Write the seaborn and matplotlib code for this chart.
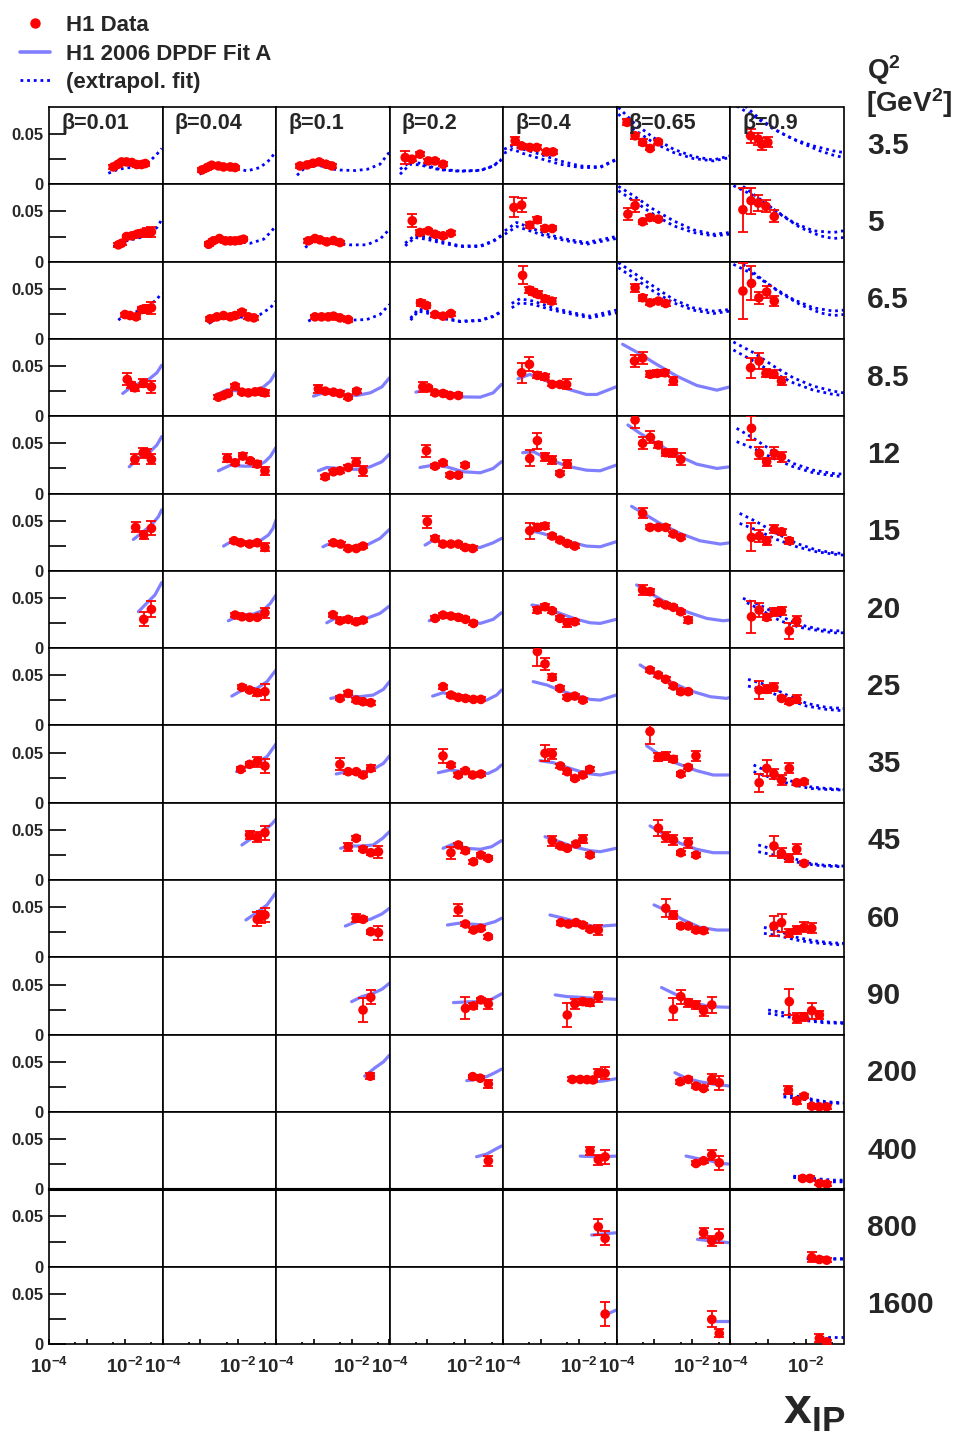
import matplotlib
matplotlib.use("Agg")
import matplotlib.pyplot as plt
import seaborn as sns
import pandas as pd
from matplotlib.lines import Line2D
from matplotlib.ticker import FixedLocator, FixedFormatter, NullFormatter

# ---------------- axis labels / categories ----------------
BETAS = ["0.01", "0.04", "0.1", "0.2", "0.4", "0.65", "0.9"]
Q2 = ["3.5", "5", "6.5", "8.5", "12", "15", "20", "25", "35", "45", "60", "90", "200", "400", "800", "1600"]
YTICKS = [0, 0.05]
YTICKLABELS = ["0", "0.05"]
XTICKS = [1e-4, 1e-3, 1e-2]
XTICKLABELS = [r"$\mathbf{10^{-4}}$", "", r"$\mathbf{10^{-2}}$"]
XMINOR = [5e-4, 5e-3, 5e-2]
YMAX = 0.077

# ---------------- data: (x_IP, value, error) and fit curves (x_IP, value) ----------------
# Q2 = 3.5
pts_0_0 = [(5.0e-3, 0.0173, 0.002), (6.5e-3, 0.0197, 0.002), (8.3e-3, 0.0223, 0.002), (1.12e-2, 0.0223, 0.002), (1.55e-2, 0.0217, 0.002), (2.1e-2, 0.0197, 0.002), (2.8e-2, 0.0197, 0.002), (3.5e-2, 0.0207, 0.002)]
fit_0_0 = [(3.7e-3, 0.011), (6.8e-3, 0.015), (1.38e-2, 0.0167), (2.6e-2, 0.0183), (4.7e-2, 0.0233), (7.1e-2, 0.030), (9.5e-2, 0.0357)]
pts_0_1 = [(1.1e-3, 0.0143, 0.002), (1.5e-3, 0.0167, 0.002), (2.0e-3, 0.019, 0.002), (3.0e-3, 0.0183, 0.002), (4.1e-3, 0.0173, 0.002), (6.2e-3, 0.0173, 0.002), (8.3e-3, 0.0167, 0.002)]
fit_0_1 = [(9.5e-4, 0.010), (2.2e-3, 0.0183), (7.6e-3, 0.0167), (1.7e-2, 0.0133), (3.8e-2, 0.0167), (7.1e-2, 0.025), (0.1, 0.0333)]
pts_0_2 = [(4.3e-4, 0.0183, 0.002), (6.6e-4, 0.0193, 0.002), (9.5e-4, 0.021, 0.002), (1.38e-3, 0.0223, 0.002), (2.1e-3, 0.020, 0.002), (3.0e-3, 0.0183, 0.002)]
fit_0_2 = [(3.6e-4, 0.009), (5.9e-4, 0.0167), (1.29e-3, 0.019), (4.1e-3, 0.0143), (1.23e-2, 0.0137), (2.6e-2, 0.015), (5.6e-2, 0.020), (9.8e-2, 0.0317)]
pts_0_3 = [(2.6e-4, 0.0267, 0.006), (3.9e-4, 0.025, 0.002), (6.4e-4, 0.030, 0.002), (1.07e-3, 0.0233, 0.002), (1.6e-3, 0.0233, 0.002), (2.6e-3, 0.020, 0.002)]
fit_0_3 = [(1.9e-4, 0.015), (3.5e-4, 0.0223), (6.4e-4, 0.021), (2.1e-3, 0.015), (7.2e-3, 0.0133), (2.5e-2, 0.014), (5.5e-2, 0.0183), (9.1e-2, 0.025)]
fit2_0_3 = [(1.9e-4, 0.010), (3.5e-4, 0.020), (6.4e-4, 0.0193), (2.1e-3, 0.0145), (7.2e-3, 0.013), (2.5e-2, 0.0137), (5.5e-2, 0.018), (9.1e-2, 0.0245)]
pts_0_4 = [(2.1e-4, 0.0433, 0.004), (3.1e-4, 0.0383, 0.002), (5.1e-4, 0.0367, 0.002), (7.8e-4, 0.0367, 0.002), (1.41e-3, 0.0323, 0.002), (2.1e-3, 0.0323, 0.002)]
fit_0_4 = [(1.07e-4, 0.035), (1.8e-4, 0.0383), (3.4e-4, 0.035), (9.5e-4, 0.030), (3.2e-3, 0.0233), (1.1e-2, 0.0183), (3.7e-2, 0.0173), (9.8e-2, 0.025)]
fit2_0_4 = [(1.07e-4, 0.031), (1.8e-4, 0.035), (3.4e-4, 0.0307), (9.5e-4, 0.0257), (3.2e-3, 0.020), (1.1e-2, 0.0167), (3.7e-2, 0.0167), (9.8e-2, 0.0243)]
pts_0_5 = [(1.9e-4, 0.0617, 0.003), (3.1e-4, 0.0483, 0.003), (4.9e-4, 0.0417, 0.003), (7.7e-4, 0.0357, 0.002), (1.28e-3, 0.0423, 0.002)]
fit_0_5 = [(1.12e-4, 0.0767), (2.8e-4, 0.0617), (9.3e-4, 0.0467), (3.2e-3, 0.035), (1.07e-2, 0.0277), (3.6e-2, 0.0243), (0.1, 0.0283)]
fit2_0_5 = [(1.12e-4, 0.070), (2.8e-4, 0.055), (9.3e-4, 0.0417), (3.2e-3, 0.0317), (1.07e-2, 0.0257), (3.6e-2, 0.0233), (0.1, 0.0267)]
pts_0_6 = [(3.5e-4, 0.0483, 0.007), (5.6e-4, 0.045, 0.006), (6.9e-4, 0.040, 0.006), (1.0e-3, 0.0417, 0.005)]
fit_0_6 = [(1.5e-4, 0.078), (4.2e-4, 0.068), (1.41e-3, 0.055), (4.7e-3, 0.045), (1.6e-2, 0.0383), (5.4e-2, 0.0333), (0.1, 0.0317)]
fit2_0_6 = [(2.5e-4, 0.078), (6.2e-4, 0.065), (2.1e-3, 0.0517), (7.1e-3, 0.0417), (2.4e-2, 0.0333), (5.4e-2, 0.029), (0.1, 0.0267)]
# Q2 = 5
pts_1_0 = [(6.8e-3, 0.0167, 0.002), (8.3e-3, 0.0183, 0.002), (1.12e-2, 0.025, 0.002), (1.55e-2, 0.0257, 0.002), (2.1e-2, 0.0273, 0.002), (2.8e-2, 0.0283, 0.003), (3.8e-2, 0.029, 0.004), (5.1e-2, 0.0297, 0.005)]
fit_1_0 = [(5.0e-3, 0.015), (1.12e-2, 0.0207), (2.6e-2, 0.024), (4.7e-2, 0.0273), (7.1e-2, 0.034), (9.5e-2, 0.0417)]
pts_1_1 = [(1.66e-3, 0.0173, 0.002), (2.2e-3, 0.0207, 0.002), (3.2e-3, 0.023, 0.002), (4.6e-3, 0.0207, 0.002), (6.2e-3, 0.0207, 0.002), (8.3e-3, 0.0207, 0.002), (1.12e-2, 0.0213, 0.002), (1.38e-2, 0.0223, 0.002)]
fit_1_1 = [(1.41e-3, 0.014), (2.75e-3, 0.0223), (7.6e-3, 0.0207), (2.1e-2, 0.0183), (4.7e-2, 0.0223), (7.8e-2, 0.0307), (0.1, 0.0363)]
pts_1_2 = [(7.1e-4, 0.0207, 0.002), (1.07e-3, 0.023, 0.002), (1.45e-3, 0.0217, 0.002), (2.2e-3, 0.0197, 0.002), (3.3e-3, 0.021, 0.002), (4.9e-3, 0.019, 0.002)]
fit_1_2 = [(5.9e-4, 0.014), (9.8e-4, 0.0207), (3.3e-3, 0.019), (9.1e-3, 0.0167), (2.5e-2, 0.0167), (5.6e-2, 0.0223), (0.1, 0.0323)]
pts_1_3 = [(4.0e-4, 0.0407, 0.0067), (6.4e-4, 0.029, 0.002), (1.07e-3, 0.0307, 0.002), (1.6e-3, 0.0273, 0.002), (2.6e-3, 0.0257, 0.002), (4.2e-3, 0.0283, 0.002)]
fit_1_3 = [(2.6e-4, 0.0183), (4.7e-4, 0.0263), (9.5e-4, 0.0247), (2.1e-3, 0.0207), (7.2e-3, 0.0157), (2.5e-2, 0.0157), (5.5e-2, 0.0207), (9.1e-2, 0.0263)]
fit2_1_3 = [(2.6e-4, 0.0157), (4.7e-4, 0.024), (9.5e-4, 0.0223), (2.1e-3, 0.019), (7.2e-3, 0.015), (2.5e-2, 0.015), (5.5e-2, 0.020), (9.1e-2, 0.0257)]
pts_1_4 = [(1.95e-4, 0.054, 0.010), (3.1e-4, 0.0563, 0.007), (5.1e-4, 0.0363, 0.003), (8.1e-4, 0.0417, 0.003), (1.29e-3, 0.033, 0.002), (2.0e-3, 0.033, 0.002)]
fit_1_4 = [(1.12e-4, 0.0307), (2.3e-4, 0.039), (5.1e-4, 0.034), (1.45e-3, 0.0273), (4.9e-3, 0.0223), (1.6e-2, 0.019), (9.8e-2, 0.025)]
fit2_1_4 = [(1.12e-4, 0.0273), (2.3e-4, 0.035), (5.1e-4, 0.0307), (1.45e-3, 0.025), (4.9e-3, 0.0207), (1.6e-2, 0.0173), (9.8e-2, 0.023)]
pts_1_5 = [(2.0e-4, 0.0473, 0.006), (3.1e-4, 0.0557, 0.006), (4.9e-4, 0.0397, 0.002), (7.7e-4, 0.044, 0.002), (1.28e-3, 0.0423, 0.002)]
fit_1_5 = [(1.12e-4, 0.075), (2.8e-4, 0.0657), (9.3e-4, 0.0523), (3.2e-3, 0.0407), (1.07e-2, 0.0317), (3.6e-2, 0.0273), (0.1, 0.029)]
fit2_1_5 = [(1.12e-4, 0.0707), (2.8e-4, 0.0607), (9.3e-4, 0.0473), (3.2e-3, 0.0357), (1.07e-2, 0.029), (3.6e-2, 0.0257), (0.1, 0.0273)]
pts_1_6 = [(2.2e-4, 0.0517, 0.022), (3.6e-4, 0.0607, 0.013), (5.6e-4, 0.0583, 0.008), (8.9e-4, 0.055, 0.006), (1.48e-3, 0.045, 0.006)]
fit_1_6 = [(1.23e-4, 0.0757), (4.2e-4, 0.0657), (1.41e-3, 0.0523), (4.7e-3, 0.039), (1.6e-2, 0.0307), (5.4e-2, 0.029), (0.1, 0.0307)]
fit2_1_6 = [(2.2e-4, 0.075), (6.2e-4, 0.0623), (2.1e-3, 0.0473), (7.1e-3, 0.034), (2.4e-2, 0.0257), (5.4e-2, 0.023), (0.1, 0.024)]
# Q2 = 6.5
pts_2_0 = [(1.02e-2, 0.0243, 0.002), (1.38e-2, 0.0233, 0.002), (2.0e-2, 0.022, 0.002), (2.8e-2, 0.0293, 0.003), (3.8e-2, 0.030, 0.004), (5.1e-2, 0.031, 0.006)]
fit_2_0 = [(6.8e-3, 0.0187), (1.12e-2, 0.026), (2.6e-2, 0.0277), (4.7e-2, 0.0343), (7.1e-2, 0.0393), (9.5e-2, 0.046)]
pts_2_1 = [(1.8e-3, 0.020, 0.002), (2.75e-3, 0.022, 0.002), (4.1e-3, 0.0233, 0.002), (6.2e-3, 0.022, 0.002), (8.3e-3, 0.0233, 0.002), (1.26e-2, 0.0267, 0.002), (1.86e-2, 0.022, 0.002), (2.6e-2, 0.021, 0.002)]
fit_2_1 = [(1.66e-3, 0.0153), (3.3e-3, 0.022), (7.6e-3, 0.0227), (1.7e-2, 0.021), (3.8e-2, 0.0243), (7.1e-2, 0.031), (0.1, 0.0377)]
pts_2_2 = [(1.07e-3, 0.022, 0.002), (1.6e-3, 0.022, 0.002), (2.4e-3, 0.022, 0.002), (3.3e-3, 0.0227, 0.002), (4.9e-3, 0.021, 0.002), (8.1e-3, 0.0193, 0.002)]
fit_2_2 = [(7.1e-4, 0.0177), (1.2e-3, 0.022), (3.3e-3, 0.021), (9.1e-3, 0.0187), (2.5e-2, 0.0193), (5.6e-2, 0.0243), (0.1, 0.0343)]
pts_2_3 = [(6.6e-4, 0.036, 0.003), (9.5e-4, 0.0333, 0.002), (1.6e-3, 0.0243, 0.002), (2.6e-3, 0.0227, 0.002), (4.2e-3, 0.0253, 0.002)]
fit_2_3 = [(3.6e-4, 0.0207), (5.8e-4, 0.0297), (9.5e-4, 0.028), (2.1e-3, 0.0223), (7.2e-3, 0.0177), (2.5e-2, 0.0187), (5.5e-2, 0.0227), (9.1e-2, 0.0277)]
fit2_2_3 = [(3.6e-4, 0.0187), (5.8e-4, 0.0277), (9.5e-4, 0.026), (2.1e-3, 0.021), (7.2e-3, 0.0172), (2.5e-2, 0.0182), (5.5e-2, 0.0222), (9.1e-2, 0.0272)]
pts_2_4 = [(3.3e-4, 0.0633, 0.009), (5.0e-4, 0.0487, 0.003), (6.3e-4, 0.0467, 0.003), (8.5e-4, 0.0443, 0.003), (1.29e-3, 0.040, 0.003), (1.95e-3, 0.0377, 0.003)]
fit_2_4 = [(1.7e-4, 0.0353), (2.8e-4, 0.040), (6.3e-4, 0.0377), (2.1e-3, 0.031), (7.2e-3, 0.026), (2.0e-2, 0.0227), (9.8e-2, 0.0287)]
fit2_2_4 = [(1.7e-4, 0.031), (2.8e-4, 0.036), (6.3e-4, 0.0343), (2.1e-3, 0.0287), (7.2e-3, 0.0243), (2.0e-2, 0.021), (9.8e-2, 0.026)]
pts_2_5 = [(3.1e-4, 0.051, 0.004), (4.9e-4, 0.041, 0.003), (7.7e-4, 0.036, 0.002), (1.28e-3, 0.0377, 0.002), (2.0e-3, 0.0353, 0.002)]
fit_2_5 = [(1.12e-4, 0.076), (2.8e-4, 0.066), (9.3e-4, 0.0527), (3.2e-3, 0.0393), (1.07e-2, 0.031), (3.6e-2, 0.0277), (0.1, 0.0293)]
fit2_2_5 = [(1.12e-4, 0.071), (2.8e-4, 0.061), (9.3e-4, 0.0477), (3.2e-3, 0.036), (1.07e-2, 0.0287), (3.6e-2, 0.0253), (0.1, 0.0277)]
pts_2_6 = [(2.2e-4, 0.0477, 0.028), (3.7e-4, 0.0553, 0.017), (5.8e-4, 0.041, 0.006), (9.3e-4, 0.0467, 0.006), (1.48e-3, 0.0377, 0.005)]
fit_2_6 = [(1.23e-4, 0.0743), (4.2e-4, 0.0643), (1.41e-3, 0.051), (4.7e-3, 0.0393), (1.6e-2, 0.031), (5.4e-2, 0.0277), (0.1, 0.0287)]
fit2_2_6 = [(2.2e-4, 0.0743), (6.2e-4, 0.061), (2.1e-3, 0.046), (7.1e-3, 0.0343), (2.4e-2, 0.026), (5.4e-2, 0.0233), (0.1, 0.0243)]
# Q2 = 8.5
pts_3_0 = [(1.17e-2, 0.0367, 0.006), (1.5e-2, 0.031, 0.003), (1.86e-2, 0.0283, 0.003), (3.1e-2, 0.0327, 0.004), (5.1e-2, 0.0293, 0.006)]
fit_3_0 = [(8.9e-3, 0.0227), (1.7e-2, 0.0307), (3.8e-2, 0.035), (7.1e-2, 0.0433), (9.5e-2, 0.0507)]
pts_3_1 = [(3.0e-3, 0.019, 0.002), (4.1e-3, 0.0207, 0.002), (5.5e-3, 0.0227, 0.002), (8.3e-3, 0.030, 0.002), (1.26e-2, 0.024, 0.002), (1.86e-2, 0.0233, 0.002), (2.8e-2, 0.0243, 0.002), (3.8e-2, 0.0247, 0.002), (5.1e-2, 0.0233, 0.003)]
fit_3_1 = [(2.5e-3, 0.0207), (5.0e-3, 0.0263), (1.12e-2, 0.025), (2.6e-2, 0.024), (4.7e-2, 0.0293), (7.1e-2, 0.035), (0.1, 0.044)]
pts_3_2 = [(1.32e-3, 0.0273, 0.004), (2.0e-3, 0.025, 0.002), (3.3e-3, 0.024, 0.002), (4.9e-3, 0.0227, 0.002), (8.1e-3, 0.019, 0.002), (1.35e-2, 0.025, 0.002)]
fit_3_2 = [(9.8e-4, 0.020), (1.78e-3, 0.0233), (4.9e-3, 0.0217), (1.35e-2, 0.0207), (3.1e-2, 0.0233), (6.3e-2, 0.0293), (0.1, 0.0383)]
pts_3_3 = [(7.6e-4, 0.0293, 0.005), (1.07e-3, 0.0283, 0.002), (1.6e-3, 0.0233, 0.002), (2.6e-3, 0.0227, 0.002), (4.0e-3, 0.0207, 0.002), (6.6e-3, 0.0207, 0.002)]
fit_3_3 = [(5.0e-4, 0.024), (9.5e-4, 0.0267), (2.1e-3, 0.0233), (7.2e-3, 0.0193), (2.5e-2, 0.019), (5.5e-2, 0.0233), (9.1e-2, 0.0317)]
pts_3_4 = [(3.1e-4, 0.0433, 0.010), (5.0e-4, 0.0517, 0.007), (8.1e-4, 0.0407, 0.003), (1.29e-3, 0.0393, 0.003), (2.0e-3, 0.0317, 0.002), (3.2e-3, 0.0317, 0.002), (4.8e-3, 0.0317, 0.005)]
fit_3_4 = [(2.5e-4, 0.0373), (5.1e-4, 0.0417), (1.45e-3, 0.035), (4.9e-3, 0.0273), (1.6e-2, 0.0217), (3.0e-2, 0.0217), (9.8e-2, 0.0293)]
pts_3_5 = [(3.0e-4, 0.055, 0.006), (4.9e-4, 0.058, 0.006), (7.7e-4, 0.0417, 0.003), (1.2e-3, 0.0427, 0.003), (1.9e-3, 0.0433, 0.003), (3.2e-3, 0.035, 0.004)]
fit_3_5 = [(1.45e-4, 0.0717), (3.4e-4, 0.064), (1.15e-3, 0.0517), (3.9e-3, 0.040), (1.32e-2, 0.0307), (4.5e-2, 0.026), (0.1, 0.0293)]
pts_3_6 = [(3.5e-4, 0.0483, 0.010), (5.9e-4, 0.055, 0.008), (8.9e-4, 0.0427, 0.004), (1.45e-3, 0.0417, 0.004), (2.3e-3, 0.035, 0.004)]
fit_3_6 = [(1.23e-4, 0.074), (4.2e-4, 0.0633), (1.41e-3, 0.050), (4.7e-3, 0.0383), (1.6e-2, 0.030), (5.4e-2, 0.025), (0.1, 0.0233)]
fit2_3_6 = [(1.23e-4, 0.066), (4.2e-4, 0.055), (1.41e-3, 0.0433), (4.7e-3, 0.0333), (1.6e-2, 0.026), (5.4e-2, 0.0217), (0.1, 0.0207)]
# Q2 = 12
pts_4_0 = [(1.86e-2, 0.034, 0.005), (3.1e-2, 0.0407, 0.005), (3.8e-2, 0.040, 0.004), (5.1e-2, 0.034, 0.005)]
fit_4_0 = [(1.32e-2, 0.0267), (2.6e-2, 0.0367), (4.7e-2, 0.0417), (7.1e-2, 0.0483), (9.5e-2, 0.0567)]
pts_4_1 = [(5.2e-3, 0.035, 0.004), (8.3e-3, 0.0307, 0.002), (1.32e-2, 0.0373, 0.003), (2.1e-2, 0.0327, 0.002), (3.2e-2, 0.0293, 0.003), (5.1e-2, 0.0227, 0.004)]
fit_4_1 = [(3.0e-3, 0.0227), (6.2e-3, 0.0283), (1.38e-2, 0.0273), (3.1e-2, 0.0273), (5.1e-2, 0.0317), (7.2e-2, 0.0373), (0.1, 0.046)]
pts_4_2 = [(2.0e-3, 0.0167, 0.002), (3.3e-3, 0.0217, 0.002), (4.9e-3, 0.0227, 0.002), (8.1e-3, 0.026, 0.002), (1.32e-2, 0.031, 0.004), (2.0e-2, 0.0227, 0.005)]
fit_4_2 = [(1.32e-3, 0.0227), (2.2e-3, 0.026), (4.9e-3, 0.025), (1.35e-2, 0.024), (3.1e-2, 0.0267), (6.3e-2, 0.0317), (0.1, 0.0393)]
pts_4_3 = [(9.5e-4, 0.0427, 0.006), (1.6e-3, 0.0273, 0.002), (2.6e-3, 0.0307, 0.002), (4.0e-3, 0.0183, 0.002), (6.6e-3, 0.0183, 0.002), (1.0e-2, 0.0283, 0.002)]
fit_4_3 = [(6.4e-4, 0.026), (1.45e-3, 0.0283), (3.2e-3, 0.0267), (8.9e-3, 0.0217), (2.5e-2, 0.0207), (5.5e-2, 0.025), (9.1e-2, 0.0317)]
pts_4_4 = [(5.1e-4, 0.035, 0.008), (8.1e-4, 0.0527, 0.008), (1.29e-3, 0.0367, 0.004), (2.0e-3, 0.0333, 0.004), (3.2e-3, 0.020, 0.002), (5.0e-3, 0.0293, 0.004)]
fit_4_4 = [(3.3e-4, 0.0407), (6.3e-4, 0.0417), (1.45e-3, 0.035), (4.9e-3, 0.0273), (1.6e-2, 0.0233), (3.7e-2, 0.0227), (9.8e-2, 0.0283)]
pts_4_5 = [(3.1e-4, 0.0733, 0.008), (4.9e-4, 0.050, 0.006), (7.9e-4, 0.056, 0.006), (1.28e-3, 0.0483, 0.003), (2.0e-3, 0.0407, 0.003), (3.2e-3, 0.0407, 0.004), (5.0e-3, 0.034, 0.006)]
fit_4_5 = [(2.0e-4, 0.0683), (4.2e-4, 0.060), (1.15e-3, 0.050), (3.9e-3, 0.0383), (1.32e-2, 0.0293), (4.5e-2, 0.025), (0.1, 0.0267)]
pts_4_6 = [(3.7e-4, 0.065, 0.012), (6.0e-4, 0.040, 0.006), (9.3e-4, 0.0317, 0.004), (1.48e-3, 0.040, 0.006), (2.3e-3, 0.0367, 0.005)]
fit_4_6 = [(1.5e-4, 0.065), (4.2e-4, 0.055), (1.41e-3, 0.0417), (4.7e-3, 0.030), (1.6e-2, 0.0233), (5.4e-2, 0.020), (0.1, 0.0193)]
fit2_4_6 = [(1.5e-4, 0.0517), (4.2e-4, 0.045), (1.41e-3, 0.035), (4.7e-3, 0.0267), (1.6e-2, 0.0207), (5.4e-2, 0.0177), (0.1, 0.0167)]
# Q2 = 15
pts_5_0 = [(1.95e-2, 0.0433, 0.005), (3.2e-2, 0.0357, 0.004), (5.1e-2, 0.0423, 0.007)]
fit_5_0 = [(1.7e-2, 0.0313), (3.1e-2, 0.039), (5.1e-2, 0.0457), (7.8e-2, 0.054), (9.5e-2, 0.0607)]
pts_5_1 = [(7.8e-3, 0.030, 0.002), (1.17e-2, 0.028, 0.002), (2.0e-2, 0.0267, 0.002), (3.2e-2, 0.028, 0.002), (5.1e-2, 0.0233, 0.004)]
fit_5_1 = [(4.1e-3, 0.0247), (7.6e-3, 0.0307), (1.7e-2, 0.029), (3.8e-2, 0.030), (6.3e-2, 0.0357), (8.3e-2, 0.0423), (0.1, 0.0507)]
pts_5_2 = [(3.3e-3, 0.028, 0.002), (5.1e-3, 0.0267, 0.002), (8.1e-3, 0.0223, 0.002), (1.32e-2, 0.0223, 0.002), (2.0e-2, 0.0247, 0.002)]
fit_5_2 = [(1.74e-3, 0.024), (3.3e-3, 0.029), (9.1e-3, 0.024), (2.5e-2, 0.0257), (5.6e-2, 0.0323), (0.1, 0.0413)]
pts_5_3 = [(1.0e-3, 0.049, 0.006), (1.6e-3, 0.0323, 0.002), (2.6e-3, 0.0267, 0.002), (4.2e-3, 0.0267, 0.002), (6.6e-3, 0.0267, 0.002), (1.0e-2, 0.0233, 0.002), (1.58e-2, 0.0223, 0.002)]
fit_5_3 = [(8.7e-4, 0.0257), (1.45e-3, 0.0307), (3.2e-3, 0.0273), (8.9e-3, 0.024), (2.5e-2, 0.0233), (5.5e-2, 0.028), (9.1e-2, 0.0323)]
pts_5_4 = [(5.1e-4, 0.040, 0.008), (8.1e-4, 0.0433, 0.003), (1.29e-3, 0.0447, 0.003), (2.0e-3, 0.0347, 0.002), (3.2e-3, 0.0307, 0.002), (5.0e-3, 0.0273, 0.002), (7.9e-3, 0.0247, 0.002)]
fit_5_4 = [(4.3e-4, 0.0407), (9.5e-4, 0.038), (2.1e-3, 0.034), (7.2e-3, 0.028), (1.6e-2, 0.0247), (3.7e-2, 0.024), (9.8e-2, 0.029)]
pts_5_5 = [(4.9e-4, 0.0573, 0.005), (7.7e-4, 0.0433, 0.002), (1.28e-3, 0.0433, 0.002), (2.0e-3, 0.0433, 0.002), (3.2e-3, 0.0367, 0.002), (5.0e-3, 0.0333, 0.002)]
fit_5_5 = [(2.5e-4, 0.0643), (5.1e-4, 0.0573), (1.41e-3, 0.0473), (4.8e-3, 0.0373), (1.6e-2, 0.030), (5.5e-2, 0.0267), (0.1, 0.028)]
pts_5_6 = [(3.7e-4, 0.0333, 0.014), (6.0e-4, 0.0347, 0.006), (9.3e-4, 0.030, 0.004), (1.48e-3, 0.0413, 0.004), (2.3e-3, 0.039, 0.003), (3.7e-3, 0.030, 0.003)]
fit_5_6 = [(1.8e-4, 0.0573), (5.0e-4, 0.049), (1.7e-3, 0.0373), (5.8e-3, 0.0273), (1.95e-2, 0.0207), (5.4e-2, 0.018), (0.1, 0.0173)]
fit2_5_6 = [(1.8e-4, 0.0473), (5.0e-4, 0.0407), (1.7e-3, 0.0313), (5.8e-3, 0.024), (1.95e-2, 0.019), (5.4e-2, 0.0167), (0.1, 0.0157)]
# Q2 = 20
pts_6_0 = [(3.2e-2, 0.0287, 0.007), (5.1e-2, 0.0387, 0.008)]
fit_6_0 = [(2.3e-2, 0.0363), (3.8e-2, 0.0447), (6.3e-2, 0.053), (9.5e-2, 0.0653)]
pts_6_1 = [(8.3e-3, 0.033, 0.002), (1.26e-2, 0.0313, 0.002), (2.0e-2, 0.0307, 0.002), (3.2e-2, 0.0307, 0.002), (5.1e-2, 0.0353, 0.005)]
fit_6_1 = [(5.5e-3, 0.0273), (1.12e-2, 0.033), (2.6e-2, 0.034), (4.7e-2, 0.038), (7.1e-2, 0.0447), (0.1, 0.053)]
pts_6_2 = [(3.2e-3, 0.0333, 0.002), (4.9e-3, 0.0273, 0.002), (8.1e-3, 0.0287, 0.002), (1.32e-2, 0.0263, 0.002), (2.0e-2, 0.028, 0.002)]
fit_6_2 = [(2.2e-3, 0.0253), (4.1e-3, 0.0307), (9.1e-3, 0.0287), (2.5e-2, 0.0297), (5.6e-2, 0.0347), (0.1, 0.042)]
pts_6_3 = [(1.6e-3, 0.0297, 0.002), (2.6e-3, 0.033, 0.002), (4.2e-3, 0.032, 0.002), (6.6e-3, 0.0307, 0.002), (1.02e-2, 0.0287, 0.002), (1.66e-2, 0.0247, 0.002)]
fit_6_3 = [(1.12e-3, 0.0273), (2.1e-3, 0.0313), (4.9e-3, 0.0307), (1.1e-2, 0.0273), (2.5e-2, 0.0247), (5.5e-2, 0.0287), (9.1e-2, 0.0353)]
pts_6_4 = [(8.1e-4, 0.038, 0.003), (1.29e-3, 0.0413, 0.003), (2.0e-3, 0.0373, 0.002), (3.2e-3, 0.0297, 0.002), (5.0e-3, 0.0253, 0.004), (7.9e-3, 0.0263, 0.002)]
fit_6_4 = [(5.8e-4, 0.043), (1.17e-3, 0.0413), (3.2e-3, 0.0347), (8.9e-3, 0.0287), (2.0e-2, 0.0253), (3.7e-2, 0.0247), (9.8e-2, 0.0287)]
pts_6_5 = [(4.9e-4, 0.058, 0.005), (7.7e-4, 0.0563, 0.003), (1.28e-3, 0.0453, 0.002), (2.0e-3, 0.043, 0.002), (3.2e-3, 0.0407, 0.002), (5.0e-3, 0.0363, 0.002), (7.9e-3, 0.028, 0.003)]
fit_6_5 = [(3.4e-4, 0.063), (7.8e-4, 0.0547), (2.1e-3, 0.0453), (7.1e-3, 0.0363), (2.4e-2, 0.0297), (6.6e-2, 0.0273), (0.1, 0.028)]
pts_6_6 = [(3.7e-4, 0.0313, 0.016), (5.9e-4, 0.038, 0.007), (9.3e-4, 0.0307, 0.003), (1.48e-3, 0.0363, 0.004), (2.3e-3, 0.0373, 0.004), (3.7e-3, 0.0173, 0.008), (5.8e-3, 0.0273, 0.005)]
fit_6_6 = [(2.2e-4, 0.0497), (6.2e-4, 0.043), (2.1e-3, 0.032), (7.1e-3, 0.0233), (2.4e-2, 0.0187), (5.4e-2, 0.0173), (0.1, 0.0173)]
fit2_6_6 = [(2.8e-4, 0.0453), (6.2e-4, 0.0387), (2.1e-3, 0.0273), (7.1e-3, 0.0207), (2.4e-2, 0.0173), (5.4e-2, 0.0153), (0.1, 0.0153)]
# Q2 = 25
pts_7_1 = [(1.26e-2, 0.038, 0.002), (2.0e-2, 0.0353, 0.002), (3.2e-2, 0.0327, 0.003), (5.1e-2, 0.0337, 0.008)]
fit_7_1 = [(6.8e-3, 0.0293), (1.38e-2, 0.036), (3.1e-2, 0.037), (5.8e-2, 0.0437), (0.1, 0.0553)]
pts_7_2 = [(4.9e-3, 0.027, 0.002), (8.1e-3, 0.032, 0.002), (1.32e-2, 0.0253, 0.002), (2.0e-2, 0.0237, 0.002), (3.2e-2, 0.0227, 0.002)]
fit_7_2 = [(2.8e-3, 0.027), (6.0e-3, 0.0293), (1.66e-2, 0.0287), (3.7e-2, 0.0303), (6.9e-2, 0.036), (0.1, 0.0437)]
pts_7_3 = [(2.6e-3, 0.0387, 0.002), (4.2e-3, 0.0303, 0.002), (6.6e-3, 0.028, 0.002), (1.02e-2, 0.027, 0.002), (1.66e-2, 0.026, 0.002), (2.6e-2, 0.026, 0.002)]
fit_7_3 = [(1.38e-3, 0.0293), (2.6e-3, 0.0327), (6.0e-3, 0.0287), (1.66e-2, 0.0253), (3.7e-2, 0.0253), (6.8e-2, 0.0303), (9.1e-2, 0.0353)]
pts_7_4 = [(8.1e-4, 0.0737, 0.014), (1.29e-3, 0.0613, 0.006), (2.0e-3, 0.048, 0.003), (3.2e-3, 0.037, 0.002), (5.0e-3, 0.028, 0.002), (7.9e-3, 0.0293, 0.002), (1.29e-2, 0.0253, 0.002)]
fit_7_4 = [(6.3e-4, 0.0437), (1.45e-3, 0.0403), (4.0e-3, 0.0337), (1.1e-2, 0.0287), (2.0e-2, 0.026), (3.7e-2, 0.0253), (9.8e-2, 0.0303)]
pts_7_5 = [(7.7e-4, 0.0553, 0.002), (1.28e-3, 0.0503, 0.002), (2.0e-3, 0.046, 0.002), (3.2e-3, 0.0393, 0.002), (5.0e-3, 0.0337, 0.002), (7.9e-3, 0.0337, 0.002)]
fit_7_5 = [(4.2e-4, 0.0603), (9.3e-4, 0.052), (2.6e-3, 0.0437), (8.7e-3, 0.0347), (3.0e-2, 0.0287), (8.1e-2, 0.027), (0.1, 0.028)]
pts_7_6 = [(5.9e-4, 0.0353, 0.009), (9.3e-4, 0.036, 0.004), (1.45e-3, 0.038, 0.004), (2.3e-3, 0.027, 0.002), (3.7e-3, 0.0237, 0.002), (5.8e-3, 0.026, 0.004)]
fit_7_6 = [(3.0e-4, 0.046), (9.3e-4, 0.0403), (3.2e-3, 0.0303), (1.07e-2, 0.022), (3.6e-2, 0.018), (0.1, 0.017)]
fit2_7_6 = [(3.0e-4, 0.0393), (9.3e-4, 0.0347), (3.2e-3, 0.026), (1.07e-2, 0.0193), (3.6e-2, 0.016), (0.1, 0.0147)]
# Q2 = 35
pts_8_1 = [(1.17e-2, 0.0333, 0.002), (2.0e-2, 0.0383, 0.002), (3.2e-2, 0.041, 0.005), (5.1e-2, 0.0367, 0.007)]
fit_8_1 = [(9.1e-3, 0.031), (1.7e-2, 0.036), (3.1e-2, 0.040), (5.8e-2, 0.046), (0.1, 0.0587)]
pts_8_2 = [(4.9e-3, 0.0383, 0.006), (8.1e-3, 0.031, 0.002), (1.32e-2, 0.031, 0.002), (2.0e-2, 0.0277, 0.002), (3.2e-2, 0.0343, 0.003)]
fit_8_2 = [(3.9e-3, 0.0287), (7.4e-3, 0.031), (1.66e-2, 0.030), (3.7e-2, 0.0333), (6.9e-2, 0.0393), (0.1, 0.0467)]
pts_8_3 = [(2.6e-3, 0.0467, 0.007), (4.2e-3, 0.0377, 0.002), (6.6e-3, 0.0277, 0.002), (1.02e-2, 0.032, 0.002), (1.58e-2, 0.0277, 0.002), (2.6e-2, 0.0287, 0.002)]
fit_8_3 = [(1.95e-3, 0.030), (4.0e-3, 0.0327), (8.9e-3, 0.031), (2.0e-2, 0.0287), (4.1e-2, 0.0293), (6.8e-2, 0.0333), (9.1e-2, 0.0377)]
pts_8_4 = [(1.29e-3, 0.0493, 0.008), (2.0e-3, 0.0487, 0.005), (3.3e-3, 0.0367, 0.002), (5.0e-3, 0.031, 0.002), (7.9e-3, 0.0243, 0.002), (1.29e-2, 0.0277, 0.002), (1.95e-2, 0.0333, 0.002)]
fit_8_4 = [(9.5e-4, 0.042), (2.1e-3, 0.040), (5.9e-3, 0.0343), (1.6e-2, 0.0293), (3.7e-2, 0.0277), (9.8e-2, 0.031)]
pts_8_5 = [(7.7e-4, 0.071, 0.012), (1.28e-3, 0.0453, 0.004), (2.0e-3, 0.0467, 0.004), (3.2e-3, 0.0433, 0.003), (5.0e-3, 0.0287, 0.002), (7.9e-3, 0.0353, 0.002), (1.26e-2, 0.0467, 0.005)]
fit_8_5 = [(6.3e-4, 0.0567), (1.41e-3, 0.0477), (3.9e-3, 0.0393), (1.32e-2, 0.032), (3.6e-2, 0.0277), (0.1, 0.0277)]
pts_8_6 = [(5.9e-4, 0.020, 0.009), (9.3e-4, 0.0343, 0.008), (1.45e-3, 0.0287, 0.005), (2.3e-3, 0.0227, 0.005), (3.7e-3, 0.0343, 0.005), (5.8e-3, 0.020, 0.002), (9.1e-3, 0.021, 0.002)]
fit_8_6 = [(4.2e-4, 0.0377), (1.15e-3, 0.030), (3.9e-3, 0.022), (1.29e-2, 0.016), (3.6e-2, 0.0143), (0.1, 0.0133)]
fit2_8_6 = [(4.2e-4, 0.031), (1.15e-3, 0.0253), (3.9e-3, 0.0187), (1.29e-2, 0.0143), (3.6e-2, 0.0133), (0.1, 0.0127)]
# Q2 = 45
pts_9_1 = [(2.0e-2, 0.045, 0.004), (3.2e-2, 0.0427, 0.005), (5.1e-2, 0.0473, 0.007)]
fit_9_1 = [(1.26e-2, 0.035), (2.6e-2, 0.0433), (5.1e-2, 0.050), (7.8e-2, 0.056), (0.1, 0.0607)]
pts_9_2 = [(8.1e-3, 0.0333, 0.004), (1.32e-2, 0.0417, 0.002), (2.0e-2, 0.0307, 0.002), (3.2e-2, 0.0273, 0.002), (5.1e-2, 0.0283, 0.006)]
fit_9_2 = [(5.1e-3, 0.0317), (9.1e-3, 0.034), (2.0e-2, 0.034), (3.7e-2, 0.035), (6.6e-2, 0.0417), (0.1, 0.0483)]
pts_9_3 = [(4.2e-3, 0.0273, 0.006), (6.6e-3, 0.035, 0.002), (1.02e-2, 0.0293, 0.002), (1.66e-2, 0.0183, 0.002), (2.6e-2, 0.025, 0.002), (4.1e-2, 0.0217, 0.002)]
fit_9_3 = [(2.6e-3, 0.0317), (4.9e-3, 0.036), (1.1e-2, 0.0317), (2.5e-2, 0.0307), (5.0e-2, 0.0333), (9.1e-2, 0.0393)]
pts_9_4 = [(2.0e-3, 0.0393, 0.005), (3.3e-3, 0.034, 0.002), (5.0e-3, 0.0317, 0.002), (8.5e-3, 0.036, 0.002), (1.29e-2, 0.0407, 0.004), (2.0e-2, 0.025, 0.002)]
fit_9_4 = [(1.29e-3, 0.0433), (2.6e-3, 0.0393), (7.2e-3, 0.0333), (2.0e-2, 0.0293), (3.7e-2, 0.0283), (9.8e-2, 0.0317)]
pts_9_5 = [(1.28e-3, 0.0517, 0.008), (2.0e-3, 0.0433, 0.005), (3.2e-3, 0.040, 0.005), (5.0e-3, 0.0273, 0.002), (7.9e-3, 0.0373, 0.005), (1.26e-2, 0.025, 0.002)]
fit_9_5 = [(7.7e-4, 0.054), (1.74e-3, 0.046), (4.8e-3, 0.0367), (1.32e-2, 0.0307), (3.6e-2, 0.0273), (0.1, 0.0273)]
pts_9_6 = [(1.45e-3, 0.034, 0.010), (2.3e-3, 0.0267, 0.005), (3.7e-3, 0.0217, 0.004), (5.8e-3, 0.0307, 0.005), (9.1e-3, 0.0167, 0.002)]
fit_9_6 = [(5.6e-4, 0.035), (1.41e-3, 0.0307), (3.9e-3, 0.0227), (1.07e-2, 0.0173), (2.95e-2, 0.015), (0.1, 0.014)]
fit2_9_6 = [(5.6e-4, 0.0283), (1.41e-3, 0.025), (3.9e-3, 0.0193), (1.07e-2, 0.016), (2.95e-2, 0.014), (0.1, 0.0133)]
# Q2 = 60
pts_10_1 = [(3.2e-2, 0.038, 0.007), (4.1e-2, 0.0407, 0.006), (5.1e-2, 0.0423, 0.007)]
fit_10_1 = [(1.6e-2, 0.0373), (3.1e-2, 0.0447), (5.8e-2, 0.0523), (0.1, 0.0647)]
pts_10_2 = [(1.32e-2, 0.039, 0.004), (2.0e-2, 0.038, 0.002), (3.2e-2, 0.0257, 0.002), (5.1e-2, 0.0247, 0.007)]
fit_10_2 = [(6.8e-3, 0.0313), (1.35e-2, 0.0357), (3.1e-2, 0.038), (6.3e-2, 0.0433), (0.1, 0.049)]
pts_10_3 = [(6.6e-3, 0.0473, 0.006), (1.02e-2, 0.0333, 0.002), (1.66e-2, 0.0273, 0.002), (2.6e-2, 0.029, 0.002), (4.1e-2, 0.0207, 0.002)]
fit_10_3 = [(3.4e-3, 0.0323), (6.6e-3, 0.034), (1.35e-2, 0.0333), (3.0e-2, 0.0323), (6.2e-2, 0.0357), (9.1e-2, 0.039)]
pts_10_4 = [(3.4e-3, 0.0347, 0.002), (5.4e-3, 0.0333, 0.002), (8.5e-3, 0.0347, 0.002), (1.29e-2, 0.0323, 0.002), (2.0e-2, 0.028, 0.002), (3.3e-2, 0.0273, 0.005)]
fit_10_4 = [(1.74e-3, 0.0423), (4.0e-3, 0.039), (1.1e-2, 0.0347), (2.5e-2, 0.0307), (9.8e-2, 0.0323)]
pts_10_5 = [(2.0e-3, 0.049, 0.009), (3.2e-3, 0.0423, 0.004), (5.0e-3, 0.0313, 0.002), (7.9e-3, 0.0313, 0.002), (1.26e-2, 0.0273, 0.002), (2.0e-2, 0.0267, 0.002)]
fit_10_5 = [(9.8e-4, 0.0523), (2.1e-3, 0.0467), (5.9e-3, 0.0373), (1.6e-2, 0.030), (4.5e-2, 0.0273), (0.1, 0.0273)]
pts_10_6 = [(1.45e-3, 0.0313, 0.010), (2.3e-3, 0.0347, 0.009), (3.7e-3, 0.024, 0.004), (5.8e-3, 0.0273, 0.004), (9.1e-3, 0.030, 0.005), (1.45e-2, 0.029, 0.005)]
fit_10_6 = [(7.9e-4, 0.030), (2.1e-3, 0.0257), (5.8e-3, 0.020), (1.58e-2, 0.0167), (4.4e-2, 0.0147), (0.1, 0.014)]
fit2_10_6 = [(7.9e-4, 0.024), (2.1e-3, 0.0213), (5.8e-3, 0.0173), (1.58e-2, 0.0147), (4.4e-2, 0.0133), (0.1, 0.0123)]
# Q2 = 90
pts_11_2 = [(2.0e-2, 0.0247, 0.012), (3.2e-2, 0.0373, 0.007)]
fit_11_2 = [(1.0e-2, 0.033), (1.86e-2, 0.038), (3.4e-2, 0.0407), (6.3e-2, 0.0453), (0.1, 0.0513)]
pts_11_3 = [(1.02e-2, 0.0263, 0.011), (1.66e-2, 0.0287, 0.003), (2.6e-2, 0.0347, 0.002), (4.1e-2, 0.0307, 0.005)]
fit_11_3 = [(4.9e-3, 0.032), (1.1e-2, 0.0327), (2.5e-2, 0.033), (5.0e-2, 0.0353), (9.1e-2, 0.0407)]
pts_11_4 = [(5.0e-3, 0.0197, 0.012), (7.9e-3, 0.0307, 0.005), (1.29e-2, 0.033, 0.003), (2.0e-2, 0.032, 0.003), (3.3e-2, 0.038, 0.005)]
fit_11_4 = [(2.4e-3, 0.0397), (4.9e-3, 0.038), (1.1e-2, 0.0373), (2.5e-2, 0.0363), (9.8e-2, 0.0353)]
pts_11_5 = [(3.2e-3, 0.0253, 0.011), (5.0e-3, 0.038, 0.007), (7.9e-3, 0.032, 0.004), (1.26e-2, 0.0297, 0.004), (2.0e-2, 0.024, 0.005), (3.3e-2, 0.0297, 0.008)]
fit_11_5 = [(1.55e-3, 0.047), (3.9e-3, 0.0397), (1.07e-2, 0.032), (2.95e-2, 0.028), (0.1, 0.0273)]
pts_11_6 = [(3.7e-3, 0.033, 0.013), (5.8e-3, 0.0163, 0.005), (9.1e-3, 0.018, 0.004), (1.45e-2, 0.024, 0.008), (2.3e-2, 0.0197, 0.004)]
fit_11_6 = [(1.02e-3, 0.0247), (3.2e-3, 0.0213), (1.07e-2, 0.0163), (2.95e-2, 0.013), (0.1, 0.012)]
fit2_11_6 = [(1.02e-3, 0.0213), (3.2e-3, 0.018), (1.07e-2, 0.014), (2.95e-2, 0.012), (0.1, 0.0113)]
# Q2 = 200
pts_12_2 = [(3.1e-2, 0.0357, 0.003)]
fit_12_2 = [(2.2e-2, 0.0357), (4.2e-2, 0.0443), (6.9e-2, 0.050), (0.1, 0.0567)]
pts_12_3 = [(1.58e-2, 0.0353, 0.002), (2.5e-2, 0.0337, 0.002), (4.1e-2, 0.028, 0.004)]
fit_12_3 = [(1.1e-2, 0.0313), (2.0e-2, 0.0327), (3.7e-2, 0.0353), (6.2e-2, 0.0393), (9.1e-2, 0.0427)]
pts_12_4 = [(6.8e-3, 0.0325, 0.002), (1.1e-2, 0.0325, 0.002), (1.66e-2, 0.0323, 0.002), (2.4e-2, 0.032, 0.002), (3.3e-2, 0.0386, 0.004), (5.0e-2, 0.0386, 0.006)]
fit_12_4 = [(5.9e-3, 0.0353), (1.1e-2, 0.0325), (2.5e-2, 0.030), (4.5e-2, 0.031), (0.1, 0.0333)]
pts_12_5 = [(4.8e-3, 0.0302, 0.002), (7.9e-3, 0.0325, 0.002), (1.26e-2, 0.0258, 0.002), (2.0e-2, 0.0235, 0.002), (3.3e-2, 0.0325, 0.005), (5.2e-2, 0.0292, 0.007)]
fit_12_5 = [(3.5e-3, 0.0392), (7.1e-3, 0.0335), (1.6e-2, 0.0302), (3.6e-2, 0.0279), (0.1, 0.0259)]
pts_12_6 = [(3.5e-3, 0.0219, 0.004), (5.8e-3, 0.0112, 0.003), (9.1e-3, 0.0159, 0.002), (1.45e-2, 0.0059, 0.002), (2.3e-2, 0.0052, 0.002), (3.6e-2, 0.0052, 0.002)]
fit_12_6 = [(2.6e-3, 0.0179), (5.8e-3, 0.0159), (1.58e-2, 0.0126), (3.6e-2, 0.0102), (0.1, 0.0092)]
fit2_12_6 = [(2.6e-3, 0.0152), (5.8e-3, 0.0136), (1.58e-2, 0.0112), (3.6e-2, 0.0092), (0.1, 0.0086)]
# Q2 = 400
pts_13_3 = [(4.1e-2, 0.0284, 0.005)]
fit_13_3 = [(2.0e-2, 0.0325), (3.7e-2, 0.0352), (6.2e-2, 0.0398), (9.1e-2, 0.0432)]
pts_13_4 = [(2.0e-2, 0.0383, 0.004), (3.3e-2, 0.0297, 0.005), (5.0e-2, 0.0324, 0.007)]
fit_13_4 = [(1.1e-2, 0.0331), (3.0e-2, 0.0325), (0.1, 0.0331)]
pts_13_5 = [(1.26e-2, 0.0258, 0.002), (2.0e-2, 0.0285, 0.002), (3.3e-2, 0.0342, 0.005), (5.2e-2, 0.0265, 0.007)]
fit_13_5 = [(6.9e-3, 0.0332), (1.32e-2, 0.0309), (2.95e-2, 0.0285), (5.5e-2, 0.0259), (0.1, 0.0252)]
pts_13_6 = [(8.3e-3, 0.0109, 0.002), (1.29e-2, 0.0109, 0.002), (2.3e-2, 0.0059, 0.002), (3.6e-2, 0.0052, 0.002)]
fit_13_6 = [(4.7e-3, 0.0132), (1.6e-2, 0.0109), (5.4e-2, 0.0092), (0.1, 0.0092)]
fit2_13_6 = [(4.7e-3, 0.0119), (1.6e-2, 0.0092), (5.4e-2, 0.0075), (0.1, 0.0075)]
# Q2 = 800
pts_14_4 = [(3.3e-2, 0.0397, 0.008), (5.0e-2, 0.0282, 0.007)]
fit_14_4 = [(2.2e-2, 0.0315), (0.1, 0.0338)]
pts_14_5 = [(2.0e-2, 0.0338, 0.005), (3.3e-2, 0.0258, 0.005), (5.2e-2, 0.0305, 0.007)]
fit_14_5 = [(1.38e-2, 0.0272), (2.95e-2, 0.0258), (5.5e-2, 0.0248), (0.1, 0.0238)]
pts_14_6 = [(1.45e-2, 0.0092, 0.005), (2.3e-2, 0.0072, 0.002), (3.6e-2, 0.0065, 0.002)]
fit_14_6 = [(1.07e-2, 0.0085), (3.6e-2, 0.0080), (0.1, 0.0080)]
fit2_14_6 = [(1.07e-2, 0.0078), (3.6e-2, 0.0075), (0.1, 0.0075)]
# Q2 = 1600
pts_15_4 = [(5.0e-2, 0.0298, 0.012)]
fit_15_4 = [(5.0e-2, 0.0289), (0.1, 0.0339)]
pts_15_5 = [(3.3e-2, 0.0245, 0.008), (5.2e-2, 0.0105, 0.004)]
fit_15_5 = [(3.3e-2, 0.0232), (0.1, 0.0232)]
pts_15_6 = [(2.3e-2, 0.0055, 0.004), (3.6e-2, 0.0022, 0.002)]
fit_15_6 = [(2.6e-2, 0.0071), (0.1, 0.0071)]

# ---------------- panel registry (row, column, points, fit, second extrapolation curve) ----------------
PANELS = [
    (0, 0, pts_0_0, fit_0_0, None), (0, 1, pts_0_1, fit_0_1, None), (0, 2, pts_0_2, fit_0_2, None),
    (0, 3, pts_0_3, fit_0_3, fit2_0_3), (0, 4, pts_0_4, fit_0_4, fit2_0_4), (0, 5, pts_0_5, fit_0_5, fit2_0_5),
    (0, 6, pts_0_6, fit_0_6, fit2_0_6),
    (1, 0, pts_1_0, fit_1_0, None), (1, 1, pts_1_1, fit_1_1, None), (1, 2, pts_1_2, fit_1_2, None),
    (1, 3, pts_1_3, fit_1_3, fit2_1_3), (1, 4, pts_1_4, fit_1_4, fit2_1_4), (1, 5, pts_1_5, fit_1_5, fit2_1_5),
    (1, 6, pts_1_6, fit_1_6, fit2_1_6),
    (2, 0, pts_2_0, fit_2_0, None), (2, 1, pts_2_1, fit_2_1, None), (2, 2, pts_2_2, fit_2_2, None),
    (2, 3, pts_2_3, fit_2_3, fit2_2_3), (2, 4, pts_2_4, fit_2_4, fit2_2_4), (2, 5, pts_2_5, fit_2_5, fit2_2_5),
    (2, 6, pts_2_6, fit_2_6, fit2_2_6),
    (3, 0, pts_3_0, fit_3_0, None), (3, 1, pts_3_1, fit_3_1, None), (3, 2, pts_3_2, fit_3_2, None),
    (3, 3, pts_3_3, fit_3_3, None), (3, 4, pts_3_4, fit_3_4, None), (3, 5, pts_3_5, fit_3_5, None),
    (3, 6, pts_3_6, fit_3_6, fit2_3_6),
    (4, 0, pts_4_0, fit_4_0, None), (4, 1, pts_4_1, fit_4_1, None), (4, 2, pts_4_2, fit_4_2, None),
    (4, 3, pts_4_3, fit_4_3, None), (4, 4, pts_4_4, fit_4_4, None), (4, 5, pts_4_5, fit_4_5, None),
    (4, 6, pts_4_6, fit_4_6, fit2_4_6),
    (5, 0, pts_5_0, fit_5_0, None), (5, 1, pts_5_1, fit_5_1, None), (5, 2, pts_5_2, fit_5_2, None),
    (5, 3, pts_5_3, fit_5_3, None), (5, 4, pts_5_4, fit_5_4, None), (5, 5, pts_5_5, fit_5_5, None),
    (5, 6, pts_5_6, fit_5_6, fit2_5_6),
    (6, 0, pts_6_0, fit_6_0, None), (6, 1, pts_6_1, fit_6_1, None), (6, 2, pts_6_2, fit_6_2, None),
    (6, 3, pts_6_3, fit_6_3, None), (6, 4, pts_6_4, fit_6_4, None), (6, 5, pts_6_5, fit_6_5, None),
    (6, 6, pts_6_6, fit_6_6, fit2_6_6),
    (7, 1, pts_7_1, fit_7_1, None), (7, 2, pts_7_2, fit_7_2, None), (7, 3, pts_7_3, fit_7_3, None),
    (7, 4, pts_7_4, fit_7_4, None), (7, 5, pts_7_5, fit_7_5, None), (7, 6, pts_7_6, fit_7_6, fit2_7_6),
    (8, 1, pts_8_1, fit_8_1, None), (8, 2, pts_8_2, fit_8_2, None), (8, 3, pts_8_3, fit_8_3, None),
    (8, 4, pts_8_4, fit_8_4, None), (8, 5, pts_8_5, fit_8_5, None), (8, 6, pts_8_6, fit_8_6, fit2_8_6),
    (9, 1, pts_9_1, fit_9_1, None), (9, 2, pts_9_2, fit_9_2, None), (9, 3, pts_9_3, fit_9_3, None),
    (9, 4, pts_9_4, fit_9_4, None), (9, 5, pts_9_5, fit_9_5, None), (9, 6, pts_9_6, fit_9_6, fit2_9_6),
    (10, 1, pts_10_1, fit_10_1, None), (10, 2, pts_10_2, fit_10_2, None), (10, 3, pts_10_3, fit_10_3, None),
    (10, 4, pts_10_4, fit_10_4, None), (10, 5, pts_10_5, fit_10_5, None), (10, 6, pts_10_6, fit_10_6, fit2_10_6),
    (11, 2, pts_11_2, fit_11_2, None), (11, 3, pts_11_3, fit_11_3, None), (11, 4, pts_11_4, fit_11_4, None),
    (11, 5, pts_11_5, fit_11_5, None), (11, 6, pts_11_6, fit_11_6, fit2_11_6),
    (12, 2, pts_12_2, fit_12_2, None), (12, 3, pts_12_3, fit_12_3, None), (12, 4, pts_12_4, fit_12_4, None),
    (12, 5, pts_12_5, fit_12_5, None), (12, 6, pts_12_6, fit_12_6, fit2_12_6),
    (13, 3, pts_13_3, fit_13_3, None), (13, 4, pts_13_4, fit_13_4, None), (13, 5, pts_13_5, fit_13_5, None),
    (13, 6, pts_13_6, fit_13_6, fit2_13_6),
    (14, 4, pts_14_4, fit_14_4, None), (14, 5, pts_14_5, fit_14_5, None), (14, 6, pts_14_6, fit_14_6, fit2_14_6),
    (15, 4, pts_15_4, fit_15_4, None), (15, 5, pts_15_5, fit_15_5, None), (15, 6, pts_15_6, fit_15_6, None),
]

# ---------------- style ----------------
RED = "#ff0000"
FIT_COLOR = "#8080ff"
EXT_COLOR = "#0000ff"
DOT = (0, (1.0, 1.4))

sns.set_theme(style="white")
plt.rcParams["font.family"] = ["Liberation Sans", "DejaVu Sans"]
plt.rcParams["font.weight"] = "bold"
plt.rcParams["mathtext.fontset"] = "custom"
plt.rcParams["mathtext.rm"] = "Liberation Sans:bold"
plt.rcParams["mathtext.bf"] = "Liberation Sans:bold"
plt.rcParams["mathtext.it"] = "Liberation Sans:bold"
plt.rcParams["axes.linewidth"] = 1.2

W, H = 961, 1440
fig, axes = plt.subplots(16, 7, figsize=(W / 100, H / 100), dpi=100,
                         gridspec_kw=dict(wspace=0, hspace=0))
fig.subplots_adjust(left=49 / W, right=843.5 / W, top=1 - 107 / H, bottom=1 - 1344 / H)

for r in range(16):
    for c in range(7):
        ax = axes[r, c]
        ax.set_xscale("log")
        ax.set_xlim(1e-4, 1e-1)
        ax.set_ylim(0, YMAX)
        ax.set_facecolor("white")
        for sp in ax.spines.values():
            sp.set_color("black")
            sp.set_linewidth(1.2)
        ax.tick_params(which="both", left=False, right=False, top=False, bottom=False,
                       labelleft=False, labelbottom=False)
        ax.set_xlabel("")
        ax.set_ylabel("")
        if c == 0:
            ax.yaxis.set_major_locator(FixedLocator(YTICKS))
            ax.yaxis.set_major_formatter(FixedFormatter(YTICKLABELS))
            ax.yaxis.set_minor_locator(FixedLocator([0.025]))
            ax.tick_params(axis="y", which="both", left=True, direction="in", length=12.2,
                           width=1.2, color="black")
            ax.tick_params(axis="y", which="major", labelleft=True, pad=4.3, labelsize=12)
        if r == 15:
            ax.xaxis.set_major_locator(FixedLocator(XTICKS))
            ax.xaxis.set_major_formatter(FixedFormatter(XTICKLABELS))
            ax.xaxis.set_minor_locator(FixedLocator(XMINOR))
            ax.xaxis.set_minor_formatter(NullFormatter())
            ax.tick_params(axis="x", which="major", bottom=True, labelbottom=True, direction="in",
                           length=3.6, width=1.2, color="black", pad=9.5, labelsize=13.5)
            ax.tick_params(axis="x", which="minor", bottom=True, direction="in",
                           length=1.8, width=1.2, color="black")
        if r == 13:
            ax.spines["bottom"].set_linewidth(2.2)
        if r == 14:
            ax.spines["top"].set_linewidth(2.2)

for (r, c, pts, fit, fit2) in PANELS:
    ax = axes[r, c]
    extrap = (r <= 2) or (c == 6)
    for curve in (fit, fit2):
        if curve is None:
            continue
        fd = pd.DataFrame(curve, columns=["x", "y"])
        if extrap:
            sns.lineplot(data=fd, x="x", y="y", ax=ax, color=EXT_COLOR, linewidth=2.0,
                         linestyle=DOT, sort=False, estimator=None, legend=False, zorder=2)
        else:
            sns.lineplot(data=fd, x="x", y="y", ax=ax, color=FIT_COLOR, linewidth=2.3,
                         sort=False, estimator=None, legend=False, zorder=2)
    df = pd.DataFrame(pts, columns=["x", "y", "err"])
    ax.errorbar(df["x"], df["y"], yerr=df["err"], fmt="none", ecolor=RED, elinewidth=1.3,
                capsize=3.3, capthick=1.3, zorder=3)
    sns.scatterplot(data=df, x="x", y="y", ax=ax, color=RED, s=48, edgecolor="none",
                    legend=False, zorder=4)
    ax.set_xlabel("")
    ax.set_ylabel("")

# beta labels on the top row
for c, b in enumerate(BETAS):
    axes[0, c].text(0.11, 0.79, "\u03b2=" + b, transform=axes[0, c].transAxes,
                    fontsize=15.5, fontweight="bold", ha="left", va="center", zorder=6)

# Q2 labels on the right
row_h = (1344 - 107) / 16
for r, q in enumerate(Q2):
    yc = 107 + row_h * (r + 0.5)
    fig.text(867 / W, 1 - yc / H, q, fontsize=21.5, fontweight="bold", ha="left", va="center")
fig.text(867 / W, 1 - 70 / H, r"Q$^{2}$", fontsize=20, fontweight="bold", ha="left", va="center")
fig.text(866 / W, 1 - 103 / H, r"[GeV$^{2}$]", fontsize=20, fontweight="bold", ha="left", va="center")

# x axis title
fig.text(845 / W, 1 - 1424 / H, r"$\mathbf{x_{IP}}$", fontsize=36, ha="right", va="baseline")

# legend
handles = [
    Line2D([], [], marker="o", color=RED, linestyle="none", markersize=6.5),
    Line2D([], [], color=FIT_COLOR, linewidth=2.6),
    Line2D([], [], color=EXT_COLOR, linewidth=2.0, linestyle=DOT),
]
labels = ["H1 Data", "H1 2006 DPDF Fit A", "(extrapol. fit)"]
fig.legend(handles, labels, loc="upper left", bbox_to_anchor=(0.016, 0.9925), frameon=False,
           prop=dict(size=16, weight="bold"), handlelength=1.35, handletextpad=0.72,
           labelspacing=0.33, borderaxespad=0.0, borderpad=0.2)

fig.savefig("out.png", dpi=100, facecolor="white")
